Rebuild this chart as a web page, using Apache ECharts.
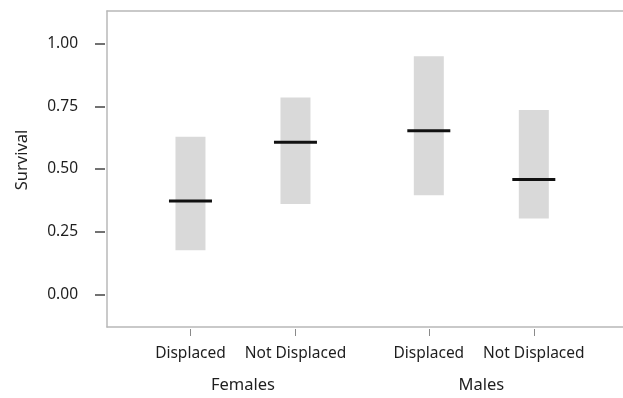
<!DOCTYPE html>
<html>
<head>
<meta charset="utf-8">
<script src="https://cdn.jsdelivr.net/npm/echarts@6/dist/echarts.min.js"></script>
<style>
  html, body { margin: 0; padding: 0; background: #fff; }
  #chart { width: 623px; height: 398px; }
</style>
</head>
<body>
<div id="chart"></div>
<script>
// ---- data ----
const groups = ['Females', 'Males'];
const categories = ['Displaced', 'Not Displaced', 'Displaced', 'Not Displaced'];
const groupOf = [0, 0, 1, 1];
const lower = [0.176, 0.360, 0.395, 0.303];
const upper = [0.629, 0.785, 0.950, 0.735];
const mean  = [0.372, 0.607, 0.653, 0.458];
const yTicks = [0, 0.25, 0.5, 0.75, 1.0];

// ---- layout helpers ----
const GROUP_STEP = 2.27;
const positions = categories.map((c, i) => {
  const g = groupOf[i];
  const within = i - groupOf.indexOf(g);
  return g * GROUP_STEP + within;
});
const groupCenters = groups.map((g, gi) => {
  const ps = positions.filter((p, i) => groupOf[i] === gi);
  return (Math.min(...ps) + Math.max(...ps)) / 2;
});
function nearestIndex(arr, v) {
  let best = 0;
  arr.forEach((p, i) => { if (Math.abs(p - v) < Math.abs(arr[best] - v)) best = i; });
  return best;
}

const FONT = 'Noto Sans';
const TEXT = '#1e1e1e';
const FRAME = { color: '#b8b8b8', width: 1.5 };
const X_MIN = -0.795, X_MAX = 4.348;
const Y_MIN = -0.13, Y_MAX = 1.13;
const seriesData = categories.map((c, i) => [positions[i], lower[i], upper[i], mean[i]]);

const hidden = { axisTick: { show: false }, axisLabel: { show: false }, splitLine: { show: false } };

const chart = echarts.init(document.getElementById('chart'), null, { renderer: 'canvas' });
chart.setOption({
  animation: false,
  backgroundColor: '#ffffff',
  grid: {
    left: 107, top: 11, width: 540, height: 316,
    outerBoundsMode: 'none', containLabel: false, show: false
  },
  xAxis: [
    {
      type: 'value', position: 'bottom', offset: 2,
      min: X_MIN, max: X_MAX,
      axisLine: { show: false, onZero: false },
      splitLine: { show: false },
      axisTick: { show: true, customValues: positions, length: 7, lineStyle: { color: '#8a8a8a', width: 1 } },
      axisLabel: {
        customValues: positions, margin: 17,
        fontFamily: FONT, fontSize: 15.5, color: TEXT,
        formatter: v => categories[nearestIndex(positions, v)]
      }
    },
    {
      type: 'value', position: 'bottom', offset: 2,
      min: X_MIN, max: X_MAX,
      axisLine: { show: false, onZero: false },
      splitLine: { show: false },
      axisTick: { show: false },
      axisLabel: {
        customValues: groupCenters, margin: 48,
        fontFamily: FONT, fontSize: 16.5, color: TEXT,
        formatter: v => groups[nearestIndex(groupCenters, v)]
      }
    },
    Object.assign({ type: 'value', position: 'bottom', offset: 0, min: X_MIN, max: X_MAX,
      axisLine: { show: true, onZero: false, lineStyle: FRAME } }, hidden),
    Object.assign({ type: 'value', position: 'top', offset: 0, min: X_MIN, max: X_MAX,
      axisLine: { show: true, onZero: false, lineStyle: FRAME } }, hidden)
  ],
  yAxis: [
    {
      type: 'value', position: 'left', offset: 2,
      min: Y_MIN, max: Y_MAX,
      name: 'Survival', nameLocation: 'middle', nameGap: 74,
      nameTextStyle: { fontFamily: FONT, fontSize: 16.5, color: TEXT, padding: [0, 0, 0, 18] },
      axisLine: { show: false, onZero: false },
      splitLine: { show: false },
      axisTick: { show: true, customValues: yTicks, length: 10, lineStyle: { color: '#444', width: 1.5 } },
      axisLabel: {
        customValues: yTicks, margin: 27,
        fontFamily: FONT, fontSize: 15.5, color: TEXT,
        formatter: v => v.toFixed(2)
      }
    },
    Object.assign({ type: 'value', position: 'left', offset: 0, min: Y_MIN, max: Y_MAX,
      axisLine: { show: true, onZero: false, lineStyle: FRAME } }, hidden)
  ],
  series: [{
    type: 'custom',
    xAxisIndex: 0,
    yAxisIndex: 0,
    data: seriesData,
    encode: { x: 0, y: [1, 2, 3] },
    renderItem: function (params, api) {
      const x = api.value(0);
      const lo = api.coord([x, api.value(1)]);
      const hi = api.coord([x, api.value(2)]);
      const mid = api.coord([x, api.value(3)]);
      const bw = 30, lw = 43;
      return {
        type: 'group',
        children: [
          { type: 'rect', shape: { x: lo[0] - bw / 2, y: hi[1], width: bw, height: lo[1] - hi[1] },
            style: { fill: '#d9d9d9' } },
          { type: 'line', shape: { x1: mid[0] - lw / 2, y1: mid[1], x2: mid[0] + lw / 2, y2: mid[1] },
            style: { stroke: '#111', lineWidth: 3 } }
        ]
      };
    }
  }]
});
</script>
</body>
</html>
